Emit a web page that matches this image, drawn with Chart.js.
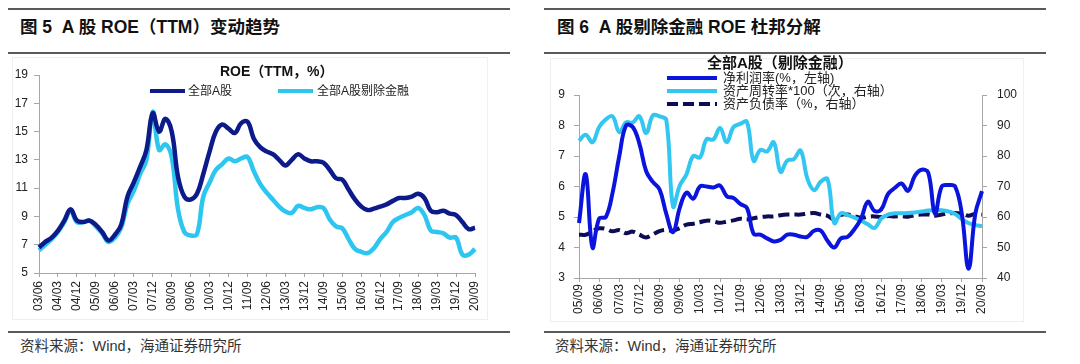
<!DOCTYPE html>
<html><head><meta charset="utf-8">
<script src="https://cdn.jsdelivr.net/npm/chart.js@4.4.0/dist/chart.umd.min.js"></script>
<style>
body{margin:0;background:#fff;width:1080px;height:364px;overflow:hidden;position:relative;font-family:"Liberation Sans",Arial,"Noto Sans CJK SC",sans-serif;}
.rule{position:absolute;height:2px;background:#5a5a5a;}
.hdr{position:absolute;font-weight:bold;font-size:17.5px;color:#111;white-space:nowrap;line-height:18px;font-family:"Liberation Sans","Noto Sans CJK SC",sans-serif;}
.src{position:absolute;font-size:14.5px;color:#333;white-space:nowrap;line-height:15px;font-family:"Liberation Sans","Noto Sans CJK SC",sans-serif;}
.box{position:absolute;border:1px solid #efefef;}
.ctitle{position:absolute;font-weight:bold;color:#111;white-space:nowrap;line-height:15px;}
.lg{position:absolute;font-size:12px;color:#222;white-space:nowrap;line-height:12px;font-family:"Liberation Sans","Noto Sans CJK SC",sans-serif;}
.ln{position:absolute;height:4px;}
canvas{position:absolute;}
</style></head>
<body>
<div class="rule" style="left:8px;top:8px;width:502px;"></div>
<div class="rule" style="left:544px;top:8px;width:502px;"></div>
<div class="hdr" style="left:20px;top:18px;">图 5&nbsp; A 股 ROE（TTM）变动趋势</div>
<div class="hdr" style="left:557px;top:18px;">图 6&nbsp; A 股剔除金融 ROE 杜邦分解</div>
<div class="rule" style="left:8px;top:52px;width:502px;"></div>
<div class="rule" style="left:544px;top:52px;width:502px;"></div>
<div class="box" style="left:12px;top:57px;width:474px;height:261px;"></div>
<div class="box" style="left:550px;top:58px;width:472px;height:262px;"></div>

<canvas id="c1" width="540" height="270" style="left:0;top:55px;"></canvas>
<canvas id="c2" width="540" height="275" style="left:540px;top:55px;"></canvas>

<div class="ctitle" style="left:220px;top:64px;font-size:14px;">ROE（TTM，%）</div>
<div class="ln" style="left:150px;top:89px;width:35px;background:#0c1a8a;"></div>
<div class="lg" style="left:188px;top:85px;">全部A股</div>
<div class="ln" style="left:278px;top:89px;width:35px;background:#2cc6f0;"></div>
<div class="lg" style="left:317px;top:85px;">全部A股剔除金融</div>

<div class="ctitle" style="left:707px;top:55px;font-size:15px;">全部A股（剔除金融）</div>
<div class="ln" style="left:667px;top:76px;width:50px;background:#0a14dc;"></div>
<div class="lg" style="left:723px;top:72px;font-size:13px;">净利润率(%，左轴)</div>
<div class="ln" style="left:667px;top:89px;width:50px;background:#33c6f0;"></div>
<div class="lg" style="left:723px;top:85px;font-size:13px;">资产周转率*100（次，右轴）</div>
<div class="ln" style="left:667px;top:102px;width:50px;background:repeating-linear-gradient(to right,#0d0d55 0 11px,transparent 11px 16px);"></div>
<div class="lg" style="left:723px;top:98px;font-size:13px;">资产负债率（%，右轴）</div>

<div class="rule" style="left:8px;top:331px;width:502px;"></div>
<div class="rule" style="left:544px;top:331px;width:502px;"></div>
<div class="src" style="left:20px;top:339px;">资料来源：Wind，海通证券研究所</div>
<div class="src" style="left:555px;top:339px;">资料来源：Wind，海通证券研究所</div>

<script>
// ---------- Chart 5 data ----------
const roeLabels = [
 '03/06','03/09','03/12',
 '04/03','04/06','04/09','04/12','05/03','05/06','05/09','05/12',
 '06/03','06/06','06/09','06/12','07/03','07/06','07/09','07/12',
 '08/03','08/06','08/09','08/12','09/03','09/06','09/09','09/12',
 '10/03','10/06','10/09','10/12','11/03','11/06','11/09','11/12',
 '12/03','12/06','12/09','12/12','13/03','13/06','13/09','13/12',
 '14/03','14/06','14/09','14/12','15/03','15/06','15/09','15/12',
 '16/03','16/06','16/09','16/12','17/03','17/06','17/09','17/12',
 '18/03','18/06','18/09','18/12','19/03','19/06','19/09','19/12',
 '20/03','20/06','20/09'];
const roeAll = [6.8,7.2,7.5,8.0,8.7,9.5,8.7,8.6,8.7,8.4,
 7.9,7.3,7.7,8.4,10.4,11.4,12.5,13.7,16.3,15.0,
 15.9,15.0,11.8,10.4,10.2,10.6,12.0,13.6,15.0,15.5,
 15.2,14.9,15.6,15.7,14.5,13.9,13.6,13.4,13.0,12.6,
 13.0,13.4,13.1,12.9,12.9,12.8,12.3,11.7,11.6,10.9,
 10.2,9.7,9.45,9.55,9.7,9.85,10.1,10.3,10.3,10.4,
 10.6,10.3,9.4,9.3,9.4,9.2,9.1,8.6,8.1,8.2];
const roeExFin = [6.6,7.0,7.4,7.9,8.6,9.4,8.6,8.6,8.7,8.3,
 7.8,7.2,7.5,8.2,9.9,10.8,12.0,13.0,16.4,13.7,
 14.1,13.2,9.5,7.9,7.65,7.75,10.4,11.4,12.3,12.7,
 13.1,12.9,13.1,13.2,12.2,11.3,10.7,10.2,9.7,9.35,
 9.25,9.75,9.6,9.5,9.65,9.6,8.8,8.3,8.15,7.4,
 6.7,6.5,6.4,6.75,7.4,7.9,8.6,8.9,9.1,9.3,
 9.6,9.1,8.0,7.9,7.8,7.5,7.5,6.3,6.3,6.7];
const roeYMin = 5, roeYMax = 19, roeYStep = 2;

// ---------- Chart 6 data ----------
const dpLabels = [
 '05/09','05/12',
 '06/03','06/06','06/09','06/12','07/03','07/06','07/09','07/12',
 '08/03','08/06','08/09','08/12','09/03','09/06','09/09','09/12',
 '10/03','10/06','10/09','10/12','11/03','11/06','11/09','11/12',
 '12/03','12/06','12/09','12/12','13/03','13/06','13/09','13/12',
 '14/03','14/06','14/09','14/12','15/03','15/06','15/09','15/12',
 '16/03','16/06','16/09','16/12','17/03','17/06','17/09','17/12',
 '18/03','18/06','18/09','18/12','19/03','19/06','19/09','19/12',
 '20/03','20/06','20/09'];
const netMargin = [4.8,6.4,4.0,4.95,5.0,5.8,7.0,8.0,7.95,7.4,
 6.5,6.15,5.9,5.1,4.5,5.3,5.8,5.6,6.0,6.0,
 5.97,6.03,5.68,5.62,5.43,5.3,4.45,4.42,4.3,4.2,
 4.25,4.42,4.42,4.36,4.35,4.55,4.55,4.22,4.0,4.3,
 4.35,4.6,4.95,5.5,5.2,5.25,5.75,5.95,6.1,5.86,
 6.35,6.55,6.45,5.1,6.0,6.05,6.0,5.1,3.3,5.1,
 5.85];
const turnover = [85,87,84.5,89.5,92,93,87.8,91,91,93,
 87.5,93.3,93,91.8,63.5,70.3,74,80,79.5,85.5,
 85.4,89.2,84.5,89.5,90.5,91.2,78.4,82,81.5,84.5,
 74.8,78.5,79,81.8,72.6,68.8,71.6,72.4,58,61.2,
 60.6,59.8,58.8,57.6,56.4,59.5,60.8,61.2,61.2,61.3,
 61.5,61.8,62.1,62.3,62.2,61.8,61,59.3,58,57.4,
 57];
const debtRatio = [54.2,54.2,55.3,56.3,56.1,55.3,55.7,54.7,55.2,54.2,
 53.3,54.3,55.4,55.8,55.5,56.4,57.5,57.8,58.3,58.8,
 58.6,58.1,58.5,58.9,59.4,59.2,59.6,60,60.2,60.2,
 60.6,60.8,60.8,60.8,61.1,61.3,60.8,60.4,59.2,60.7,
 60.8,60.3,59.7,60.1,60.2,60,60.3,60.2,60.3,60.1,
 60.6,60.8,60.8,60.4,60.8,61.2,61.3,61.1,60.4,61.1,
 60.8];
const leftMin = 3, leftMax = 9, leftStep = 1;
const rightMin = 40, rightMax = 100, rightStep = 10;

const axisColor = '#a6a6a6';
const tickFont = {family:'"Liberation Sans", Arial, sans-serif', size:12};
const tickColor = '#222';

function xAxis(height, padding){
  return {
    type:'category',
    offset:false,
    border:{display:true,color:axisColor,width:1},
    grid:{drawOnChartArea:false,drawTicks:true,tickLength:4,
      color:(ctx)=> (ctx.index % 3 === 0 ? axisColor : 'rgba(0,0,0,0)')},
    ticks:{autoSkip:false,minRotation:90,maxRotation:90,padding:padding,color:tickColor,font:tickFont,
      callback:function(v,i){return i%3===0 ? this.getLabelForValue(v) : '';}},
    afterFit:(s)=>{s.height=height;}
  };
}
function yAxis(pos,min,max,step,width,padding){
  return {
    type:'linear',position:pos,min:min,max:max,
    border:{display:true,color:axisColor,width:1},
    grid:{drawOnChartArea:false,drawTicks:true,tickLength:5,color:axisColor},
    ticks:{stepSize:step,padding:padding,color:tickColor,font:tickFont},
    afterFit:(s)=>{s.width=width;}
  };
}

Chart.defaults.animation = false;

new Chart(document.getElementById('c1'),{
  type:'line',
  data:{labels:roeLabels,datasets:[
    {label:'全部A股',data:roeAll,borderColor:'#0c1a8a',borderWidth:4.5,pointRadius:0,tension:0.4,fill:false},
    {label:'全部A股剔除金融',data:roeExFin,borderColor:'#2cc6f0',borderWidth:4.5,pointRadius:0,tension:0.4,fill:false}
  ]},
  options:{
    responsive:false,devicePixelRatio:1,animation:false,
    layout:{padding:{top:20,right:65,left:0,bottom:0}},
    plugins:{legend:{display:false},tooltip:{enabled:false},title:{display:false}},
    scales:{
      x:xAxis(52,4),
      y:yAxis('left',roeYMin,roeYMax,roeYStep,39,6)
    }
  }
});

new Chart(document.getElementById('c2'),{
  type:'line',
  data:{labels:dpLabels,datasets:[
    {label:'资产负债率（%，右轴）',data:debtRatio,yAxisID:'y1',borderColor:'#0d0d55',borderWidth:4,borderDash:[11,5],pointRadius:0,tension:0.4,fill:false,order:3},
    {label:'资产周转率*100（次，右轴）',data:turnover,yAxisID:'y1',borderColor:'#33c6f0',borderWidth:4,pointRadius:0,tension:0.4,fill:false,order:2},
    {label:'净利润率(%，左轴)',data:netMargin,yAxisID:'y',borderColor:'#0a14dc',borderWidth:4,pointRadius:0,tension:0.4,fill:false,order:1}
  ]},
  options:{
    responsive:false,devicePixelRatio:1,animation:false,
    layout:{padding:{top:40,right:0,left:0,bottom:0}},
    plugins:{legend:{display:false},tooltip:{enabled:false},title:{display:false}},
    scales:{
      x:xAxis(52,2),
      y:yAxis('left',leftMin,leftMax,leftStep,39,9),
      y1:yAxis('right',rightMin,rightMax,rightStep,98,10)
    }
  }
});
</script>
</body></html>
